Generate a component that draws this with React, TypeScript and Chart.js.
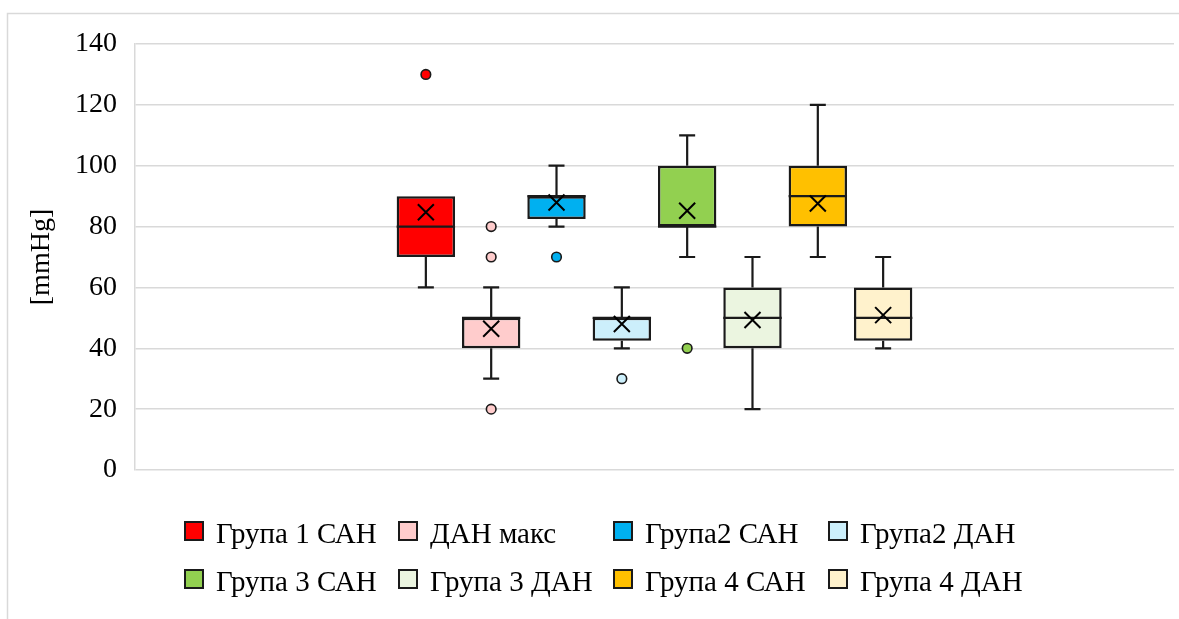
import React, { useEffect, useRef } from 'react';
import { Chart, registerables } from 'chart.js';

Chart.register(...registerables);

// Blood pressure box plots per group (values in mmHg)
const seriesNames = [
  'Група 1 САН',
  'ДАН макс',
  'Група2 САН',
  'Група2 ДАН',
  'Група 3 САН',
  'Група 3 ДАН',
  'Група 4 САН',
  'Група 4 ДАН',
];
const fillColors = [
  '#FF0000',
  '#FFCCCC',
  '#00B0F0',
  '#CCEFFB',
  '#92D050',
  '#EBF5E0',
  '#FFC000',
  '#FFF2CC',
];
const whiskerLow = [60, 30, 80, 40, 70, 20, 70, 40];
const quartile1 = [70, 40, 82.5, 42.5, 80, 40, 80, 42.5];
const medians = [80, 50, 90, 50, 80, 50, 90, 50];
const quartile3 = [90, 50, 90, 50, 100, 60, 100, 60];
const whiskerHigh = [90, 60, 100, 60, 110, 70, 120, 70];
const means = [84.7, 46.4, 87.9, 48.0, 85.2, 49.3, 87.6, 50.9];
const outliers: number[][] = [[130], [80, 70, 20], [70], [30], [40], [], [], []];

const yMin = 0;
const yMax = 140;
const yStep = 20;
const axisTitle = '[mmHg]';

const FONT = "'Liberation Serif', 'Times New Roman', serif";
const INK = '#1a1a1a';
const GRID = '#d9d9d9';

// Whiskers, medians, means and outliers drawn on top of the floating bars
const boxExtras = {
  id: 'boxExtras',
  afterDatasetsDraw(chart: any) {
    const ctx = chart.ctx as CanvasRenderingContext2D;
    const y = chart.scales.y;
    ctx.save();
    chart.data.datasets.forEach((_ds: any, i: number) => {
      const bar = chart.getDatasetMeta(i).data[0] as any;
      if (!bar) return;
      const x = bar.x;
      const w = bar.width;
      const cap = 8;
      ctx.strokeStyle = INK;
      ctx.lineWidth = 2.2;
      ctx.lineCap = 'butt';
      // upper whisker
      if (whiskerHigh[i] > quartile3[i]) {
        const yTop = y.getPixelForValue(whiskerHigh[i]);
        const yBox = y.getPixelForValue(quartile3[i]);
        ctx.beginPath();
        ctx.moveTo(x, yBox);
        ctx.lineTo(x, yTop);
        ctx.moveTo(x - cap, yTop);
        ctx.lineTo(x + cap, yTop);
        ctx.stroke();
      }
      // lower whisker
      if (whiskerLow[i] < quartile1[i]) {
        const yBot = y.getPixelForValue(whiskerLow[i]);
        const yBox = y.getPixelForValue(quartile1[i]);
        ctx.beginPath();
        ctx.moveTo(x, yBox);
        ctx.lineTo(x, yBot);
        ctx.moveTo(x - cap, yBot);
        ctx.lineTo(x + cap, yBot);
        ctx.stroke();
      }
      // median line
      const yMed = y.getPixelForValue(medians[i]);
      ctx.beginPath();
      ctx.moveTo(x - w / 2, yMed);
      ctx.lineTo(x + w / 2, yMed);
      ctx.stroke();
      // mean marker (x)
      const yMean = y.getPixelForValue(means[i]);
      const m = 8;
      ctx.strokeStyle = '#000';
      ctx.lineWidth = 2;
      ctx.beginPath();
      ctx.moveTo(x - m, yMean - m);
      ctx.lineTo(x + m, yMean + m);
      ctx.moveTo(x + m, yMean - m);
      ctx.lineTo(x - m, yMean + m);
      ctx.stroke();
      // outliers
      outliers[i].forEach((v) => {
        const yo = y.getPixelForValue(v);
        ctx.beginPath();
        ctx.arc(x, yo, 4.8, 0, Math.PI * 2);
        ctx.fillStyle = fillColors[i];
        ctx.fill();
        ctx.lineWidth = 1.6;
        ctx.strokeStyle = INK;
        ctx.stroke();
      });
    });
    ctx.restore();
  },
};

// Frame around the chart and a two-row legend laid out in columns
const frameAndLegend = {
  id: 'frameAndLegend',
  beforeDraw(chart: any) {
    const ctx = chart.ctx as CanvasRenderingContext2D;
    ctx.save();
    ctx.strokeStyle = GRID;
    ctx.lineWidth = 1.5;
    ctx.beginPath();
    ctx.moveTo(7.5, chart.height);
    ctx.lineTo(7.5, 13.5);
    ctx.lineTo(chart.width, 13.5);
    ctx.stroke();
    ctx.restore();
  },
  afterDraw(chart: any) {
    const ctx = chart.ctx as CanvasRenderingContext2D;
    const colX = [184, 398, 613, 828];
    const rowTop = [521, 569];
    const size = 20;
    ctx.save();
    ctx.font = `29px ${FONT}`;
    ctx.textBaseline = 'alphabetic';
    ctx.textAlign = 'left';
    seriesNames.forEach((name, i) => {
      const col = i % 4;
      const row = Math.floor(i / 4);
      const sx = colX[col];
      const sy = rowTop[row];
      ctx.fillStyle = fillColors[i];
      ctx.fillRect(sx, sy, size, size);
      ctx.strokeStyle = INK;
      ctx.lineWidth = 2;
      ctx.strokeRect(sx + 1, sy + 1, size - 2, size - 2);
      ctx.fillStyle = '#000';
      ctx.fillText(name, sx + 32, sy + 22);
    });
    ctx.restore();
  },
};

export default function App() {
  const canvasRef = useRef<HTMLCanvasElement | null>(null);

  useEffect(() => {
    if (!canvasRef.current) return;
    const chart = new Chart(canvasRef.current, {
      type: 'bar',
      data: {
        labels: [''],
        datasets: seriesNames.map((name, i) => ({
          label: name,
          data: [[quartile1[i], quartile3[i]]] as any,
          backgroundColor: fillColors[i],
          borderColor: INK,
          borderWidth: 2.5,
          borderSkipped: false,
          categoryPercentage: 0.503,
          barPercentage: 0.894,
        })),
      },
      options: {
        animation: false,
        responsive: false,
        maintainAspectRatio: false,
        layout: { padding: { left: 0, top: 44, right: 5, bottom: 149 } },
        plugins: {
          legend: { display: false },
          tooltip: { enabled: false },
        },
        scales: {
          x: {
            type: 'category',
            display: false,
          },
          y: {
            min: yMin,
            max: yMax,
            afterFit: (scale: any) => {
              scale.width = 135;
            },
            ticks: {
              stepSize: yStep,
              padding: 18,
              color: '#000',
              font: { family: FONT, size: 28 },
            },
            grid: {
              color: GRID,
              lineWidth: 1.5,
              drawTicks: false,
            },
            border: { display: true, color: GRID, width: 1.5 },
            title: {
              display: true,
              text: axisTitle,
              color: '#000',
              font: { family: FONT, size: 28 },
              padding: { top: 25, bottom: 0 },
            },
          },
        },
      },
      plugins: [frameAndLegend, boxExtras],
    });
    return () => chart.destroy();
  }, []);

  return (
    <canvas
      ref={canvasRef}
      width={1179}
      height={619}
      style={{ position: 'absolute', left: 0, top: 0, width: 1179, height: 619 }}
    />
  );
}
